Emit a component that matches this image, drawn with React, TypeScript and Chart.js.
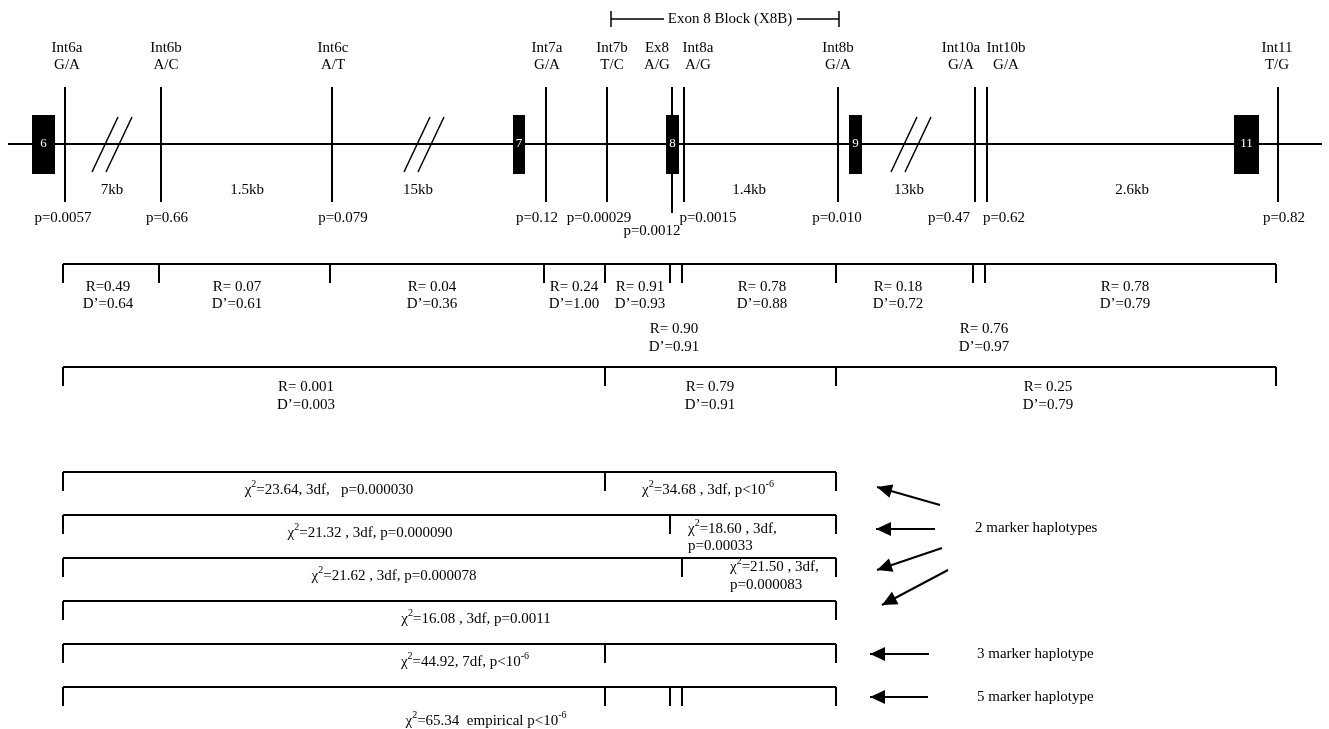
import React, { useEffect, useRef } from 'react';
import { Chart, registerables } from 'chart.js';
Chart.register(...registerables);

const W = 1329;
const H = 729;

// ---- markers (schematic position along the gene) ----
const markerNames = ['Int6a', 'Int6b', 'Int6c', 'Int7a', 'Int7b', 'Ex8', 'Int8a', 'Int8b', 'Int10a', 'Int10b', 'Int11'];
const markerAlleles = ['G/A', 'A/C', 'A/T', 'G/A', 'T/C', 'A/G', 'A/G', 'G/A', 'G/A', 'G/A', 'T/G'];
const markerPos = [65, 161, 332, 546, 607, 672, 684, 838, 975, 987, 1278];
const markerPValues = ['p=0.0057', 'p=0.66', 'p=0.079', 'p=0.12', 'p=0.00029', 'p=0.0012', 'p=0.0015', 'p=0.010', 'p=0.47', 'p=0.62', 'p=0.82'];
const markerNamePos = [67, 166, 333, 547, 612, 657, 698, 838, 961, 1006, 1277];
const markerPPos = [63, 167, 343, 537, 599, 652, 708, 837, 949, 1004, 1284];

// ---- exons ----
const exonLabels = ['6', '7', '8', '9', '11'];
const exonStart = [32, 513, 666, 849, 1234];
const exonEnd = [55, 525, 679, 862, 1259];

// ---- intron distances and breaks ----
const distLabels = ['7kb', '1.5kb', '15kb', '1.4kb', '13kb', '2.6kb'];
const distPos = [112, 247, 418, 749, 909, 1132];
const breakPos = [112, 424, 911];

// ---- pairwise LD (R, D') ----
const ld1R = ['R=0.49', 'R= 0.07', 'R= 0.04', 'R= 0.24', 'R= 0.91', 'R= 0.78', 'R= 0.18', 'R= 0.78'];
const ld1D = ['D\u2019=0.64', 'D\u2019=0.61', 'D\u2019=0.36', 'D\u2019=1.00', 'D\u2019=0.93', 'D\u2019=0.88', 'D\u2019=0.72', 'D\u2019=0.79'];
const ld1X = [108, 237, 432, 574, 640, 762, 898, 1125];
const ld2R = ['R= 0.90', 'R= 0.76'];
const ld2D = ['D\u2019=0.91', 'D\u2019=0.97'];
const ld2X = [674, 984];
const ld3R = ['R= 0.001', 'R= 0.79', 'R= 0.25'];
const ld3D = ['D\u2019=0.003', 'D\u2019=0.91', 'D\u2019=0.79'];
const ld3X = [306, 710, 1048];
const ld3Ticks = [0, 4, 7, 10];

// ---- haplotype tests ----
const chiRowY = [472, 515, 558, 601, 644, 687];
const chiRowTicks = [[0, 4, 7], [0, 5, 7], [0, 6, 7], [0, 7], [0, 4, 7], [0, 4, 5, 6, 7]];
const chiTexts = [
  'χ^{2}=23.64, 3df,   p=0.000030', 'χ^{2}=34.68 , 3df, p<10^{-6}',
  'χ^{2}=21.32 , 3df, p=0.000090', 'χ^{2}=18.60 , 3df,', 'p=0.00033',
  'χ^{2}=21.62 , 3df, p=0.000078', 'χ^{2}=21.50 , 3df,', 'p=0.000083',
  'χ^{2}=16.08 , 3df, p=0.0011',
  'χ^{2}=44.92, 7df, p<10^{-6}',
  'χ^{2}=65.34  empirical p<10^{-6}',
];
const chiTextX = [329, 708, 370, 688, 688, 394, 730, 730, 476, 465, 486];
const chiTextY = [490, 490, 533, 529, 546, 576, 567, 585, 619, 662, 721];
const chiTextAlign = ['center', 'center', 'center', 'left', 'left', 'center', 'left', 'left', 'center', 'center', 'center'];

// ---- arrows & legend labels ----
const arrowFromX = [940, 935, 942, 948, 929, 928];
const arrowFromY = [505, 529, 548, 570, 654, 697];
const arrowToX = [877, 876, 877, 882, 870, 870];
const arrowToY = [487, 529, 570, 605, 654, 697];
const groupLabels = ['2 marker haplotypes', '3 marker haplotype', '5 marker haplotype'];
const groupLabelX = [975, 977, 977];
const groupLabelY = [528, 654, 697];

const FONT = "'Liberation Serif', 'Times New Roman', serif";

type P = { x: number; y: number | null };
function seg(out: P[], x1: number, y1: number, x2: number, y2: number) {
  out.push({ x: x1, y: y1 }, { x: x2, y: y2 }, { x: x2, y: null });
}

function lineDs(data: P[], width: number) {
  return {
    type: 'scatter' as const,
    data,
    showLine: true,
    borderColor: '#000',
    backgroundColor: '#000',
    borderWidth: width,
    pointRadius: 0,
    spanGaps: false,
    tension: 0,
  };
}

function drawRich(ctx: CanvasRenderingContext2D, text: string, x: number, y: number, align: string, size: number) {
  const parts: { t: string; sup: boolean }[] = [];
  const re = /\^\{([^}]*)\}/g;
  let last = 0;
  let m: RegExpExecArray | null;
  while ((m = re.exec(text))) {
    if (m.index > last) parts.push({ t: text.slice(last, m.index), sup: false });
    parts.push({ t: m[1], sup: true });
    last = m.index + m[0].length;
  }
  if (last < text.length) parts.push({ t: text.slice(last), sup: false });
  const normal = `${size}px ${FONT}`;
  const small = `${Math.round(size * 0.66)}px ${FONT}`;
  let total = 0;
  for (const p of parts) {
    ctx.font = p.sup ? small : normal;
    total += ctx.measureText(p.t).width;
  }
  let cx = align === 'center' ? x - total / 2 : align === 'right' ? x - total : x;
  ctx.textAlign = 'left';
  ctx.textBaseline = 'middle';
  for (const p of parts) {
    ctx.font = p.sup ? small : normal;
    ctx.fillText(p.t, cx, p.sup ? y - size * 0.38 : y);
    cx += ctx.measureText(p.t).width;
  }
}

export default function App() {
  const ref = useRef<HTMLCanvasElement | null>(null);

  useEffect(() => {
    document.body.style.margin = '0';
    const canvas = ref.current;
    if (!canvas) return;

    const GENE_Y = 144;
    const backbone: P[] = [];
    seg(backbone, 8, GENE_Y, 1322, GENE_Y);

    const markers: P[] = [];
    markerPos.forEach((x, i) => seg(markers, x, 87, x, markerNames[i] === 'Ex8' ? 213 : 202));

    const breaks: P[] = [];
    breakPos.forEach((c) => {
      seg(breaks, c - 20, 172, c + 6, 117);
      seg(breaks, c - 6, 172, c + 20, 117);
    });

    const brackets: P[] = [];
    const TICK = 19;
    const bx = (i: number) => markerPos[i] - 2;
    seg(brackets, bx(0), 264, bx(10), 264);
    markerPos.forEach((_, i) => seg(brackets, bx(i), 264, bx(i), 264 + TICK));
    seg(brackets, bx(0), 367, bx(10), 367);
    ld3Ticks.forEach((i) => seg(brackets, bx(i), 367, bx(i), 367 + TICK));
    chiRowY.forEach((y, r) => {
      const ticks = chiRowTicks[r];
      seg(brackets, bx(ticks[0]), y, bx(ticks[ticks.length - 1]), y);
      ticks.forEach((i) => seg(brackets, bx(i), y, bx(i), y + TICK));
    });

    const block: P[] = [];
    const bL = markerPos[4] + 4;
    const bR = markerPos[7] + 1;
    seg(block, bL, 19, 664, 19);
    seg(block, 797, 19, bR, 19);
    seg(block, bL, 11, bL, 27);
    seg(block, bR, 11, bR, 27);

    const shafts: P[] = [];
    arrowFromX.forEach((x, i) => seg(shafts, x, arrowFromY[i], arrowToX[i], arrowToY[i]));

    const overlay = {
      id: 'overlay',
      afterDatasetsDraw(chart: any) {
        const ctx: CanvasRenderingContext2D = chart.ctx;
        const xs = chart.scales.x;
        const ys = chart.scales.y;
        const px = (v: number) => xs.getPixelForValue(v);
        const py = (v: number) => ys.getPixelForValue(v);
        ctx.save();
        ctx.fillStyle = '#000';

        exonLabels.forEach((lab, i) => {
          const x1 = px(exonStart[i]);
          const x2 = px(exonEnd[i]);
          const y1 = py(115);
          const y2 = py(174);
          ctx.fillStyle = '#000';
          ctx.fillRect(x1, y1, x2 - x1, y2 - y1);
          ctx.fillStyle = '#fff';
          ctx.font = `13px ${FONT}`;
          ctx.textAlign = 'center';
          ctx.textBaseline = 'middle';
          ctx.fillText(lab, (x1 + x2) / 2, py(GENE_Y));
        });
        ctx.fillStyle = '#000';

        const S = 15;
        markerNames.forEach((n, i) => {
          drawRich(ctx, n, px(markerNamePos[i]), py(48), 'center', S);
          drawRich(ctx, markerAlleles[i], px(markerNamePos[i]), py(65), 'center', S);
          drawRich(ctx, markerPValues[i], px(markerPPos[i]), py(n === 'Ex8' ? 231 : 218), 'center', S);
        });
        distLabels.forEach((d, i) => drawRich(ctx, d, px(distPos[i]), py(190), 'center', S));

        drawRich(ctx, 'Exon 8 Block (X8B)', px(730), py(19), 'center', S);

        ld1R.forEach((r, i) => {
          drawRich(ctx, r, px(ld1X[i]), py(287), 'center', S);
          drawRich(ctx, ld1D[i], px(ld1X[i]), py(304), 'center', S);
        });
        ld2R.forEach((r, i) => {
          drawRich(ctx, r, px(ld2X[i]), py(329), 'center', S);
          drawRich(ctx, ld2D[i], px(ld2X[i]), py(347), 'center', S);
        });
        ld3R.forEach((r, i) => {
          drawRich(ctx, r, px(ld3X[i]), py(387), 'center', S);
          drawRich(ctx, ld3D[i], px(ld3X[i]), py(405), 'center', S);
        });

        chiTexts.forEach((t, i) => drawRich(ctx, t, px(chiTextX[i]), py(chiTextY[i]), chiTextAlign[i], S));

        arrowFromX.forEach((fx, i) => {
          const x0 = px(fx), y0 = py(arrowFromY[i]);
          const x1 = px(arrowToX[i]), y1 = py(arrowToY[i]);
          const a = Math.atan2(y1 - y0, x1 - x0);
          const L = 15, hw = 7;
          ctx.beginPath();
          ctx.moveTo(x1, y1);
          ctx.lineTo(x1 - L * Math.cos(a) - hw * Math.sin(a), y1 - L * Math.sin(a) + hw * Math.cos(a));
          ctx.lineTo(x1 - L * Math.cos(a) + hw * Math.sin(a), y1 - L * Math.sin(a) - hw * Math.cos(a));
          ctx.closePath();
          ctx.fill();
        });

        groupLabels.forEach((g, i) => drawRich(ctx, g, px(groupLabelX[i]), py(groupLabelY[i]), 'left', S));
        ctx.restore();
      },
    };

    const chart = new Chart(canvas, {
      type: 'scatter',
      data: {
        datasets: [
          lineDs(backbone, 2),
          lineDs(markers, 2),
          lineDs(breaks, 1.5),
          lineDs(brackets, 2),
          lineDs(block, 1.5),
          lineDs(shafts, 2),
        ] as any,
      },
      options: {
        animation: false,
        responsive: false,
        events: [],
        layout: { padding: 0 },
        plugins: { legend: { display: false }, tooltip: { enabled: false } },
        scales: {
          x: { type: 'linear', min: 0, max: W, display: false },
          y: { type: 'linear', min: 0, max: H, reverse: true, display: false },
        },
      },
      plugins: [overlay],
    });
    return () => chart.destroy();
  }, []);

  return (
    <div style={{ width: W, height: H, background: '#fff' }}>
      <canvas ref={ref} width={W} height={H} style={{ display: 'block' }} />
    </div>
  );
}
